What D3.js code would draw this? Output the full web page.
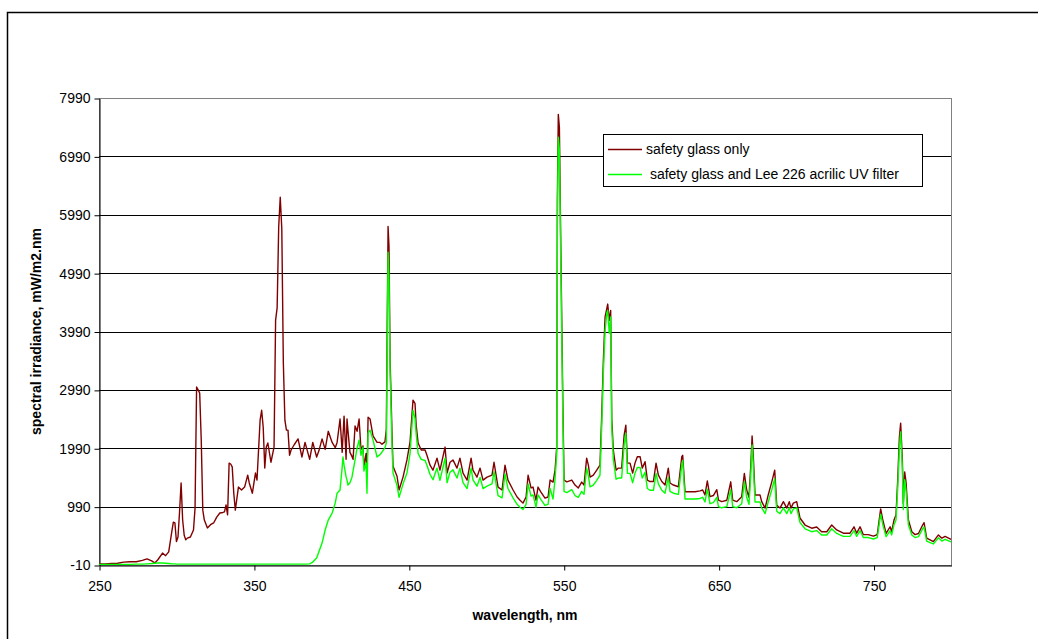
<!doctype html>
<html lang="en">
<head>
<meta charset="UTF-8">
<title>Spectral irradiance</title>
<style>
    body { margin: 0; background: #fff; }
    svg { display: block; font-family: 'Liberation Sans', Arial, sans-serif; }
    .tick text { font-size: 14px; fill: #000; }
    .axis path, .axis line { stroke: #000; }
    .grid line { stroke: #000; shape-rendering: crispEdges; }
    .title { font-size: 14px; font-weight: bold; }
    .legend text { font-size: 14px; }
</style>
</head>
<body>
<div class="chart"></div>
<script src="https://d3js.org/d3.v7.min.js"></script>
<script>
// sampled wavelengths (nm)
const wavelengths = [
    250, 254, 258, 262, 266, 270, 274, 278, 281, 284,
    286, 288, 291, 293, 295, 297, 298, 299, 300, 301,
    302, 303, 304, 305, 306, 307, 309, 311, 312, 313,
    314, 315, 316, 317, 318, 320, 322, 324, 326, 328,
    330, 331, 332, 333, 334, 335, 336, 337, 338, 340,
    342, 344, 346, 347, 349, 351, 352, 354, 355, 356,
    357, 358, 359, 361, 363, 364, 365, 366, 367, 368,
    369, 370, 371, 372, 373, 374, 376, 378.5, 381, 383,
    386, 388, 390.5, 392, 394, 396, 398, 400.5, 402.5, 403.7,
    405.6, 407, 407.5, 408.2, 409.5, 410.1, 410.7, 412, 413.3, 414,
    415.3, 416.6, 417.9, 419.1, 420.4, 421, 422.4, 423, 423.7, 425,
    426.9, 429.5, 431.4, 432.7, 434.6, 435.5, 436.6, 437.2, 437.9, 439.2,
    439.8, 442.4, 443.7, 446.3, 448.8, 450.8, 452.7, 454, 454.7, 456,
    458, 460.5, 461.7, 463.7, 465.6, 468.2, 470.1, 473.4, 474.7, 476.6,
    478.5, 481.1, 483, 485, 487.6, 490.2, 491.4, 494, 496, 497.9,
    500.5, 503.7, 505, 507.6, 510.2, 512.1, 514, 517.3, 519.9, 521.8,
    523.7, 525.7, 527, 528.9, 530.2, 532.1, 533.4, 535.3, 537.9, 539.9,
    541.2, 543.1, 544.4, 545.5, 545.9, 546.5, 547.2, 548, 549.4, 550.2,
    552, 555.2, 557.3, 559.4, 561.6, 563.1, 564.8, 565.9, 567, 569.1,
    571.3, 573.4, 574.5, 575.6, 576.7, 577.8, 578.4, 579.4, 580.3, 581,
    582, 583.8, 585.3, 587.4, 589, 590.1, 591.1, 592.8, 594.5, 596,
    597.5, 599.3, 600.7, 602.5, 604, 605.7, 607.9, 609.6, 611.1, 613.3,
    615.4, 617.5, 618.6, 620.8, 624, 626.2, 626.8, 628.3, 631.5, 634.8,
    638, 639.7, 641.2, 642.7, 644.4, 646.6, 648.8, 649.9, 652, 655.3,
    657.8, 659.1, 661.7, 664.9, 666.6, 668.1, 669.6, 670.7, 671.6, 672.4,
    673.5, 676.7, 677.8, 680, 682, 684.3, 686.2, 687.5, 689.6, 691.8,
    694, 695.6, 696.7, 698.2, 700.4, 702.5, 705.8, 710.1, 713.3, 716.5,
    719.8, 723, 726.2, 730.5, 734.8, 737.4, 739.1, 741.3, 743.4, 746.6,
    749.9, 752.4, 754.6, 756, 758.1, 760.7, 761.7, 763.2, 764.5, 765.6,
    766.7, 767.5, 768.6, 769.2, 770.1, 771, 772.5, 774.7, 776.8, 779,
    781.7, 782.6, 784.3, 786.5, 788.6, 791.9, 794.1, 796.2, 800
]

// safety glass only (mW/m2.nm)
const safetyGlass = [
    10, 10, 15, 20, 40, 45, 45, 70, 95, 60,
    25, 80, 195, 150, 215, 560, 725, 710, 390, 470,
    900, 1395, 760, 500, 420, 450, 470, 590, 965, 3040,
    2990, 2935, 2130, 930, 760, 625, 680, 710, 810, 880,
    890, 900, 1020, 850, 1735, 1720, 1670, 1220, 930, 1325,
    1275, 1325, 1530, 1395, 1220, 1565, 1445, 2470, 2640, 2350,
    1650, 2010, 2080, 1750, 2010, 4180, 4400, 5780, 6290, 5750,
    3450, 2470, 2300, 2300, 1870, 1960, 2050, 2150, 1840, 2090,
    1800, 2090, 1840, 1950, 2150, 1970, 2280, 2090, 2000, 2090,
    2490, 1920, 2200, 2540, 1800, 2490, 2300, 1920, 1850, 1800,
    2370, 2280, 2490, 1970, 2030, 1680, 1900, 1510, 2520, 2490,
    2200, 2090, 2090, 2060, 2100, 2320, 5790, 5450, 3510, 2200,
    1680, 1510, 1275, 1500, 1790, 2100, 2815, 2760, 2400, 2080,
    1960, 1960, 1870, 1700, 1615, 1820, 1615, 2010, 1565, 1750,
    1790, 1650, 1820, 1565, 1445, 1820, 1615, 1495, 1650, 1445,
    1495, 1530, 1750, 1325, 1275, 1700, 1445, 1275, 1155, 1100,
    1050, 1155, 1530, 1310, 1325, 1100, 1325, 1240, 1135, 1155,
    1445, 1410, 1615, 2015, 6240, 7710, 7490, 5670, 2815, 1445,
    1415, 1445, 1360, 1310, 1410, 1360, 1820, 1700, 1495, 1530,
    1615, 1700, 2530, 3500, 4240, 4380, 4460, 4180, 4350, 2500,
    1960, 1615, 1650, 1650, 2215, 2385, 1735, 1735, 1565, 1735,
    1845, 1845, 1650, 1760, 1445, 1420, 1420, 1735, 1530, 1420,
    1360, 1650, 1395, 1360, 1330, 1845, 1870, 1245, 1245, 1245,
    1260, 1275, 1190, 1430, 1160, 1180, 1280, 1100, 1075, 1100,
    1415, 1100, 1075, 1160, 1560, 1275, 1150, 1670, 2200, 1845,
    1190, 1190, 1075, 965, 1190, 1415, 1615, 1015, 965, 1075,
    965, 1075, 965, 1050, 1075, 795, 675, 620, 640, 560,
    560, 675, 590, 535, 535, 645, 535, 645, 510, 510,
    485, 510, 950, 760, 530, 645, 560, 760, 845, 1445,
    2185, 2420, 1790, 1050, 1585, 1400, 760, 560, 510, 530,
    675, 715, 450, 420, 390, 505, 450, 480, 430
]

// safety glass and Lee 226 acrylic UV filter (mW/m2.nm)
const withFilter = [
    0, 0, 0, 0, 0, 0, 5, 5, 10, 15,
    20, 25, 25, 20, 15, 10, 10, 10, 5, 5,
    5, 5, 5, 5, 5, 5, 5, 5, 5, 5,
    5, 5, 5, 5, 5, 5, 5, 5, 5, 5,
    5, 5, 5, 5, 5, 5, 5, 5, 5, 5,
    5, 5, 5, 5, 5, 5, 5, 5, 5, 5,
    5, 5, 5, 5, 5, 5, 5, 5, 5, 5,
    5, 5, 5, 5, 5, 5, 5, 5, 5, 5,
    10, 40, 110, 220, 365, 590, 760, 880, 1050, 1220,
    1275, 1670, 1840, 1700, 1500, 1445, 1360, 1400, 1495, 1600,
    1790, 1995, 2130, 1870, 2010, 1600, 1735, 1220, 2250, 2300,
    2130, 1840, 1880, 1925, 2000, 2080, 5350, 4900, 3300, 2000,
    1565, 1350, 1150, 1380, 1565, 1900, 2640, 2500, 2250, 1900,
    1800, 1780, 1700, 1540, 1450, 1650, 1440, 1820, 1400, 1580,
    1620, 1480, 1650, 1400, 1300, 1650, 1450, 1340, 1490, 1300,
    1340, 1380, 1590, 1180, 1140, 1550, 1300, 1140, 1030, 980,
    940, 1030, 1380, 1170, 1190, 980, 1190, 1110, 1010, 1030,
    1300, 1120, 1460, 1900, 5900, 7320, 7100, 5400, 2600, 1250,
    1230, 1280, 1180, 1150, 1250, 1200, 1650, 1520, 1330, 1360,
    1440, 1530, 2350, 3300, 4000, 4300, 4350, 3960, 4240, 2350,
    1800, 1460, 1480, 1480, 2050, 2250, 1560, 1560, 1400, 1560,
    1660, 1660, 1480, 1580, 1300, 1270, 1270, 1560, 1380, 1270,
    1220, 1490, 1250, 1220, 1200, 1700, 1780, 1120, 1120, 1120,
    1130, 1150, 1070, 1290, 1040, 1060, 1150, 990, 970, 990,
    1280, 990, 970, 1040, 1420, 1150, 1030, 1520, 2045, 1700,
    1070, 1070, 970, 870, 1070, 1280, 1470, 910, 870, 970,
    870, 970, 870, 950, 970, 720, 610, 560, 580, 505,
    505, 610, 530, 480, 480, 580, 480, 580, 460, 460,
    435, 460, 860, 680, 475, 580, 505, 680, 760, 1300,
    2000, 2270, 1650, 940, 1450, 1260, 680, 505, 460, 475,
    610, 640, 400, 375, 350, 455, 400, 430, 385
]

const seriesNames = ['safety glass only', ' safety glass and Lee 226 acrilic UV filter']
const seriesColors = ['#800000', '#00ff00']
const yTicks = [-10, 990, 1990, 2990, 3990, 4990, 5990, 6990, 7990]
const xTicks = [250, 350, 450, 550, 650, 750]

let dims = {
    width: 1038,
    height: 639,
    left: 99,
    right: 951,
    top: 98,
    bottom: 565
}

const svg = d3.select('.chart')
    .append('svg')
    .attr('width', dims.width)
    .attr('height', dims.height)

// outer chart frame (runs off the right and bottom)
svg.append('rect')
    .attr('x', 7.5)
    .attr('y', 12.5)
    .attr('width', 1040)
    .attr('height', 640)
    .attr('fill', 'none')
    .attr('stroke', '#000')
    .attr('stroke-width', 1.5)

const xScale = d3.scaleLinear()
    .domain([250, 800])
    .range([dims.left, dims.right])
const yScale = d3.scaleLinear()
    .domain([-10, 7990])
    .range([dims.bottom, dims.top])

// plot area border
svg.append('rect')
    .attr('x', dims.left + 0.5)
    .attr('y', dims.top + 0.5)
    .attr('width', dims.right - dims.left)
    .attr('height', dims.bottom - dims.top)
    .attr('fill', 'none')
    .attr('stroke', '#808080')

// gridlines
svg.append('g')
    .attr('class', 'grid')
    .selectAll('line')
    .data(yTicks.slice(1, -1))
    .enter().append('line')
    .attr('x1', dims.left)
    .attr('x2', dims.right)
    .attr('y1', d => Math.round(yScale(d)) + 0.5)
    .attr('y2', d => Math.round(yScale(d)) + 0.5)

// Y axis
svg.append('g')
    .attr('class', 'axis')
    .attr('transform', 'translate(' + (dims.left + 0.5) + ',0.5)')
    .call(d3.axisLeft(yScale).tickValues(yTicks).tickSize(5).tickSizeOuter(0).tickPadding(4).tickFormat(d3.format('d')))
    .call(g => g.selectAll('.tick text').text(d => d < 0 ? '-' + Math.abs(d) : d))

// X axis
svg.append('g')
    .attr('class', 'axis')
    .attr('transform', 'translate(0.5,' + (dims.bottom + 0.5) + ')')
    .call(d3.axisBottom(xScale).tickValues(xTicks).tickSize(5).tickSizeOuter(0).tickPadding(11).tickFormat(d3.format('d')))

// lines
const idx = d3.range(wavelengths.length)
const series = [safetyGlass, withFilter]
series.forEach(function(values, s) {
    const line = d3.line()
        .x(i => xScale(wavelengths[i]))
        .y(i => yScale(values[i]))
    svg.append('path')
        .datum(idx)
        .attr('d', line)
        .attr('fill', 'none')
        .attr('stroke', seriesColors[s])
        .attr('stroke-width', 1.4)
        .attr('stroke-linejoin', 'round')
})

// axis titles
svg.append('text')
    .attr('class', 'title')
    .attr('x', (dims.left + dims.right) / 2)
    .attr('y', 620)
    .attr('text-anchor', 'middle')
    .text('wavelength, nm')
svg.append('text')
    .attr('class', 'title')
    .attr('transform', 'translate(41,' + ((dims.top + dims.bottom) / 2) + ') rotate(-90)')
    .attr('text-anchor', 'middle')
    .text('spectral irradiance, mW/m2.nm')

// legend
const legend = svg.append('g').attr('class', 'legend')
legend.append('rect')
    .attr('x', 603.5)
    .attr('y', 134.5)
    .attr('width', 319)
    .attr('height', 52)
    .attr('fill', '#fff')
    .attr('stroke', '#000')
seriesNames.forEach(function(name, s) {
    const yy = 149 + s * 25
    legend.append('line')
        .attr('x1', 608)
        .attr('x2', 642)
        .attr('y1', yy + 0.5)
        .attr('y2', yy + 0.5)
        .attr('stroke', seriesColors[s])
        .attr('stroke-width', 1.4)
    legend.append('text')
        .attr('x', 646)
        .attr('y', yy + 5)
        .attr('xml:space', 'preserve')
        .style('white-space', 'pre')
        .text(name)
})
</script>
</body>
</html>
